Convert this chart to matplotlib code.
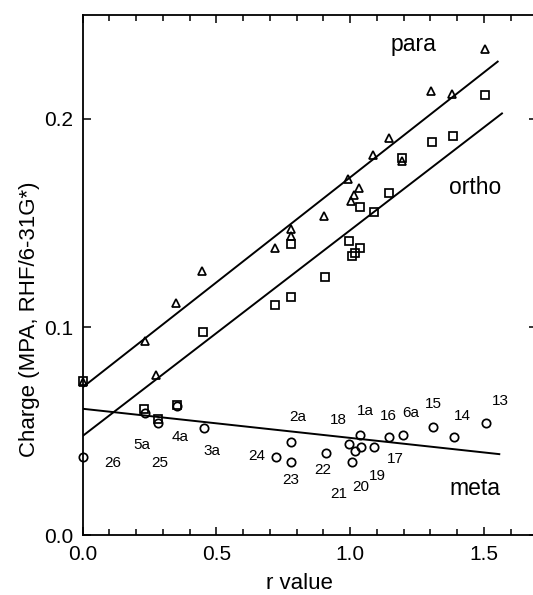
import numpy as np
import matplotlib
matplotlib.use("Agg")
import matplotlib.pyplot as plt
from matplotlib.ticker import MultipleLocator

plt.rcParams['font.family'] = ['Liberation Sans', 'DejaVu Sans']

# para (triangles)
para_r = [0.0, 0.232, 0.276, 0.348, 0.448, 0.719, 0.778, 0.778, 0.904, 0.994,
          1.003, 1.014, 1.035, 1.084, 1.144, 1.194, 1.303, 1.383, 1.503]
para_q = [0.0737, 0.0934, 0.0769, 0.1114, 0.1271, 0.1378, 0.1470, 0.1439, 0.1534, 0.1710,
          0.1607, 0.1635, 0.1667, 0.1825, 0.1907, 0.1800, 0.2136, 0.2119, 0.2337]

# ortho (squares)
ortho_r = [0.0, 0.230, 0.281, 0.352, 0.451, 0.720, 0.781, 0.781, 0.906, 0.996,
           1.008, 1.017, 1.037, 1.037, 1.088, 1.147, 1.196, 1.307, 1.385, 1.506]
ortho_q = [0.0740, 0.0607, 0.0556, 0.0625, 0.0978, 0.1108, 0.1397, 0.1146, 0.1240, 0.1413,
           0.1342, 0.1357, 0.1378, 0.1579, 0.1554, 0.1642, 0.1812, 0.1891, 0.1918, 0.2117]

# meta (circles)
meta_r = [0.0, 0.233, 0.281, 0.352, 0.453, 0.723, 0.781, 0.781, 0.910, 0.997,
          1.009, 1.017, 1.038, 1.041, 1.088, 1.147, 1.198, 1.310, 1.387, 1.508]
meta_q = [0.0377, 0.0585, 0.0537, 0.0620, 0.0513, 0.0373, 0.0449, 0.0352, 0.0396, 0.0436,
          0.0352, 0.0402, 0.0481, 0.0425, 0.0425, 0.0469, 0.0481, 0.0521, 0.0470, 0.0540]

# regression lines: intercept, slope, last r
fit_names = ['para', 'ortho', 'meta']
fit_b = [0.0710, 0.0476, 0.0607]
fit_m = [0.1009, 0.0989, -0.0140]
fit_end = [1.552, 1.568, 1.558]

# compound labels next to the meta points
labels = ['13', '14', '15', '6a', '16', '1a', '18', '17', '22', '19',
          '20', '21', '2a', '24', '23', '3a', '4a', '5a', '26', '25']
label_r = [1.561, 1.421, 1.312, 1.228, 1.143, 1.056, 0.956, 1.168, 0.898, 1.104,
           1.041, 0.956, 0.803, 0.651, 0.778, 0.483, 0.364, 0.221, 0.113, 0.289]
label_q = [0.0644, 0.0574, 0.0628, 0.0588, 0.0572, 0.0596, 0.0553, 0.0365, 0.0313, 0.0284,
           0.0232, 0.0197, 0.0566, 0.0380, 0.0264, 0.0405, 0.0470, 0.0433, 0.0348, 0.0345]

series_text = ['para', 'ortho', 'meta']
series_text_r = [1.237, 1.467, 1.467]
series_text_q = [0.2356, 0.1672, 0.0225]

fig = plt.figure(figsize=(5.33, 5.95), dpi=100)
ax = fig.add_axes([0.155, 0.1008, 0.853, 0.874])

mk = dict(linestyle='none', mfc='none', mec='black', mew=1.25, clip_on=False)
ax.plot(para_r, para_q, marker='^', ms=6.3, **mk)
ax.plot(ortho_r, ortho_q, marker='s', ms=6.3, **mk)
ax.plot(meta_r, meta_q, marker='o', ms=6.0, **mk)

for b, m, e in zip(fit_b, fit_m, fit_end):
    xx = np.array([0.0, e])
    ax.plot(xx, b + m * xx, color='black', lw=1.4)

for t, x, y in zip(labels, label_r, label_q):
    ax.text(x, y, t, fontsize=11, ha='center', va='center')

for t, x, y in zip(series_text, series_text_r, series_text_q):
    ax.text(x, y, t, fontsize=16.5, ha='center', va='center')

ax.set_xlim(0, 1.7)
ax.set_ylim(0, 0.25)
ax.xaxis.set_major_locator(MultipleLocator(0.5))
ax.xaxis.set_minor_locator(MultipleLocator(0.1))
ax.yaxis.set_major_locator(MultipleLocator(0.1))
ax.xaxis.set_major_formatter(plt.FuncFormatter(lambda v, p: '%.1f' % v))
ax.yaxis.set_major_formatter(plt.FuncFormatter(lambda v, p: '%.1f' % v))
ax.tick_params(which='both', direction='in', top=True, right=True, labelsize=15, width=1.1)
ax.tick_params(which='major', length=6, pad=7)
ax.tick_params(which='minor', length=4)
for s in ax.spines.values():
    s.set_linewidth(1.3)

ax.set_xlabel('r value', fontsize=16)
ax.set_ylabel('Charge (MPA, RHF/6-31G*)', fontsize=16)
ax.xaxis.set_label_coords(0.476, -0.073)
ax.yaxis.set_label_coords(-0.094, 0.415)

fig.savefig('out.png', dpi=100)
